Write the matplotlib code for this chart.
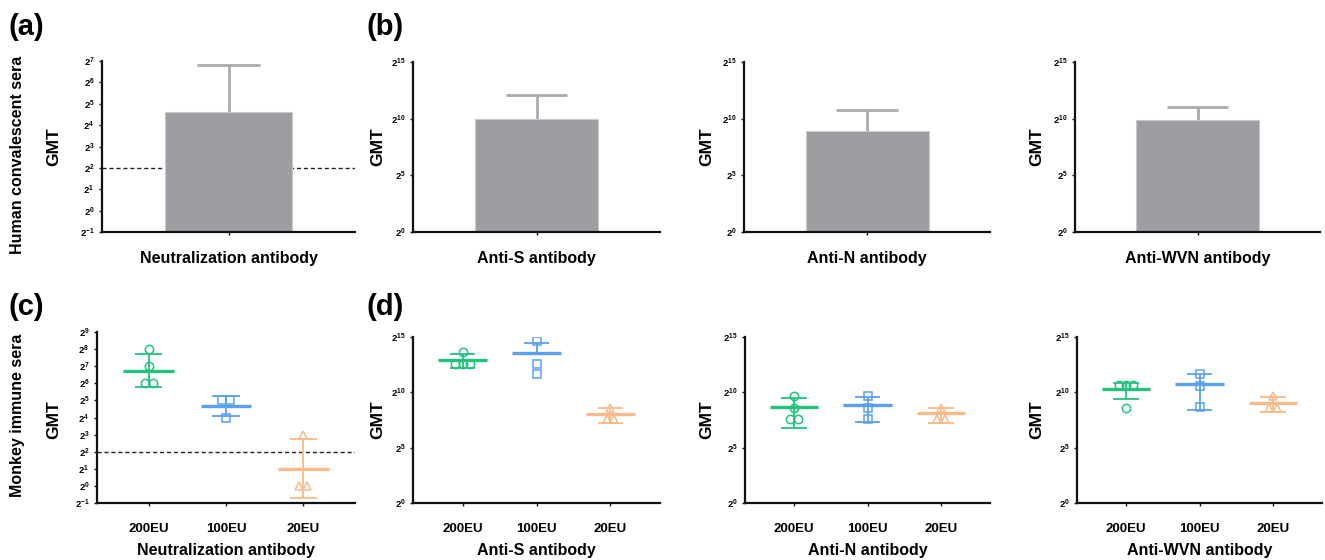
import numpy as np
import matplotlib
matplotlib.use("Agg")
import matplotlib.pyplot as plt

plt.rcParams['font.family'] = ['Liberation Sans', 'DejaVu Sans']
plt.rcParams['font.weight'] = 'bold'
plt.rcParams['mathtext.fontset'] = 'custom'
plt.rcParams['mathtext.rm'] = 'Liberation Sans:bold'
plt.rcParams['mathtext.it'] = 'Liberation Sans:bold'
plt.rcParams['mathtext.bf'] = 'Liberation Sans:bold'
plt.rcParams['mathtext.default'] = 'rm'

# ---------------- data (log2 of GMT) ----------------
groups = ["200EU", "100EU", "20EU"]
group_colors = ["#22c27c", "#5aa0ee", "#f6bb8a"]
group_markers = ["o", "s", "^"]

# Human convalescent sera: bars (log2 mean, log2 upper error)
human_titles = ["Neutralization antibody", "Anti-S antibody", "Anti-N antibody", "Anti-WVN antibody"]
human_mean = [4.6, 10.0, 8.9, 9.9]
human_upper = [6.8, 12.1, 10.8, 11.0]

# Monkey immune sera: individual points (log2), mean, lower, upper
neut_points = [[8, 7, 6, 6], [5, 5, 4], [3, 0, 0]]
neut_mean = [6.7, 4.67, 1.0]
neut_low = [5.8, 4.1, -0.7]
neut_high = [7.7, 5.25, 2.75]

antis_points = [[13.6, 12.6, 12.6, 12.6], [14.6, 12.6, 11.65], [8.6, 7.6, 7.6]]
antis_mean = [12.9, 13.55, 8.05]
antis_low = [12.2, 13.55, 7.2]
antis_high = [13.45, 14.45, 8.6]

antin_points = [[9.7, 8.6, 7.6, 7.6], [9.7, 8.6, 7.6], [8.6, 7.55, 7.55]]
antin_mean = [8.65, 8.9, 8.1]
antin_low = [6.8, 7.35, 7.25]
antin_high = [9.45, 9.6, 8.6]

antiw_points = [[10.65, 10.65, 10.65, 8.6], [11.65, 10.6, 8.65], [9.65, 8.6, 8.6]]
antiw_mean = [10.3, 10.75, 9.05]
antiw_low = [9.4, 8.4, 8.2]
antiw_high = [10.85, 11.65, 9.6]

monkey_titles = ["Neutralization antibody", "Anti-S antibody", "Anti-N antibody", "Anti-WVN antibody"]
cutoff_log2 = 2

# ---------------- layout ----------------
W, H = 1325, 560
fig = plt.figure(figsize=(W / 100, H / 100), dpi=100)

def rect(l, r, t, b):
    return [l / W, 1 - b / H, (r - l) / W, (b - t) / H]

def ftext(x, y, s, **kw):
    fig.text(x / W, 1 - y / H, s, **kw)

top_rects = [rect(102, 355, 61, 232), rect(413, 660, 62, 232),
             rect(744, 990, 62, 232), rect(1075, 1320, 62, 232)]
bot_rects = [rect(97, 355, 332, 503), rect(413, 660, 337, 503),
             rect(745, 990, 337, 503), rect(1077, 1322, 337, 503)]
gmt_x = [54, 378, 707, 1037]

BAR = "#9e9ea2"
ERR = "#ababab"

def style_axes(ax, lo, hi, step):
    ax.set_yscale('log', base=2)
    ax.set_ylim(2.0 ** lo, 2.0 ** hi)
    ticks = np.arange(lo, hi + 1, step)
    ax.set_yticks(2.0 ** ticks)
    ax.set_yticklabels([r'$2^{%d}$' % t for t in ticks], fontsize=6.8)
    ax.yaxis.set_minor_locator(matplotlib.ticker.NullLocator())
    for s in ['top', 'right']:
        ax.spines[s].set_visible(False)
    for s in ['left', 'bottom']:
        ax.spines[s].set_linewidth(1.6)
        ax.spines[s].set_color('#111111')
    ax.tick_params(axis='y', length=2.5, width=1, pad=3, color='#111111')
    ax.tick_params(axis='x', length=2.5, width=1, color='#111111')
    ax.patch.set_alpha(0)

# ---- top row: bars ----
for i in range(4):
    ax = fig.add_axes(top_rects[i])
    if i == 0:
        lo, hi, step = -1, 7, 1
    else:
        lo, hi, step = 0, 15, 5
    style_axes(ax, lo, hi, step)
    ymin = 2.0 ** lo
    ax.bar([0], [2.0 ** human_mean[i] - ymin], bottom=ymin, width=1.0,
           color=BAR, edgecolor='#c9c9cc', linewidth=0.8, zorder=2)
    ax.vlines(0, 2.0 ** human_mean[i], 2.0 ** human_upper[i], color=ERR, lw=2, zorder=1)
    ax.hlines(2.0 ** human_upper[i], -0.25, 0.25, color=ERR, lw=2, zorder=1)
    if i == 0:
        ax.axhline(2.0 ** cutoff_log2, color='#222222', lw=1, ls=(0, (3, 2)), zorder=0)
    ax.set_xlim(-1, 1)
    ax.set_xticks([0])
    ax.set_xticklabels([''])
    ftext(gmt_x[i], 147, "GMT", rotation=90, ha='center', va='center', fontsize=12.5, fontweight='bold')
    b = top_rects[i]
    ftext((b[0] + b[2] / 2) * W, 259, human_titles[i], ha='center', va='center',
          fontsize=11.5, fontweight='bold')

# ---- bottom row: dot plots ----
monkey_sets = [
    (neut_points, neut_mean, neut_low, neut_high),
    (antis_points, antis_mean, antis_low, antis_high),
    (antin_points, antin_mean, antin_low, antin_high),
    (antiw_points, antiw_mean, antiw_low, antiw_high),
]

def spread(vals, gap=0.1, tol=0.35):
    vals = np.asarray(vals, float)
    off = np.zeros(len(vals))
    used = np.zeros(len(vals), bool)
    for k in range(len(vals)):
        if used[k]:
            continue
        idx = [j for j in range(len(vals)) if not used[j] and abs(vals[j] - vals[k]) < tol]
        n = len(idx)
        for m, j in enumerate(idx):
            off[j] = (m - (n - 1) / 2) * gap
            used[j] = True
    return off

for i in range(4):
    ax = fig.add_axes(bot_rects[i])
    if i == 0:
        lo, hi, step = -1, 9, 1
    else:
        lo, hi, step = 0, 15, 5
    style_axes(ax, lo, hi, step)
    pts, mean, low, high = monkey_sets[i]
    for g in range(3):
        c = group_colors[g]
        ax.vlines(g, 2.0 ** low[g], 2.0 ** high[g], color=c, lw=1.3, zorder=2)
        ax.hlines([2.0 ** high[g]], g - 0.175, g + 0.175, color=c, lw=1.3, zorder=2)
        if low[g] < mean[g]:
            ax.hlines([2.0 ** low[g]], g - 0.175, g + 0.175, color=c, lw=1.3, zorder=2)
        ax.hlines([2.0 ** mean[g]], g - 0.33, g + 0.33, color=c, lw=2.4, zorder=3)
        off = spread(pts[g])
        ax.plot(g + off, 2.0 ** np.asarray(pts[g], float), ls='none',
                marker=group_markers[g], ms=6, mfc='none', mec=c, mew=1.1, zorder=4)
    if i == 0:
        ax.axhline(2.0 ** cutoff_log2, color='#222222', lw=1, ls=(0, (3, 2)), zorder=0)
    ax.set_xlim(-0.67, 2.67)
    ax.set_xticks(range(3))
    ax.set_xticklabels(groups, fontsize=9.5, fontweight='bold')
    ax.tick_params(axis='x', pad=12)
    ftext(gmt_x[i], 420, "GMT", rotation=90, ha='center', va='center', fontsize=12.5, fontweight='bold')
    b = bot_rects[i]
    ftext((b[0] + b[2] / 2) * W, 550, monkey_titles[i], ha='center', va='center',
          fontsize=11.5, fontweight='bold')

# row labels
ftext(18, 155, "Human convalescent sera", rotation=90, ha='center', va='center',
      fontsize=11.5, fontweight='bold')
ftext(18, 415, "Monkey immune sera", rotation=90, ha='center', va='center',
      fontsize=11.5, fontweight='bold')

# panel labels
for lab, x, y in [("(a)", 9, 27), ("(b)", 366, 27), ("(c)", 9, 307), ("(d)", 366, 307)]:
    ftext(x, y, lab, ha='left', va='center', fontsize=21, fontweight='bold')

fig.savefig("out.png", dpi=100)
